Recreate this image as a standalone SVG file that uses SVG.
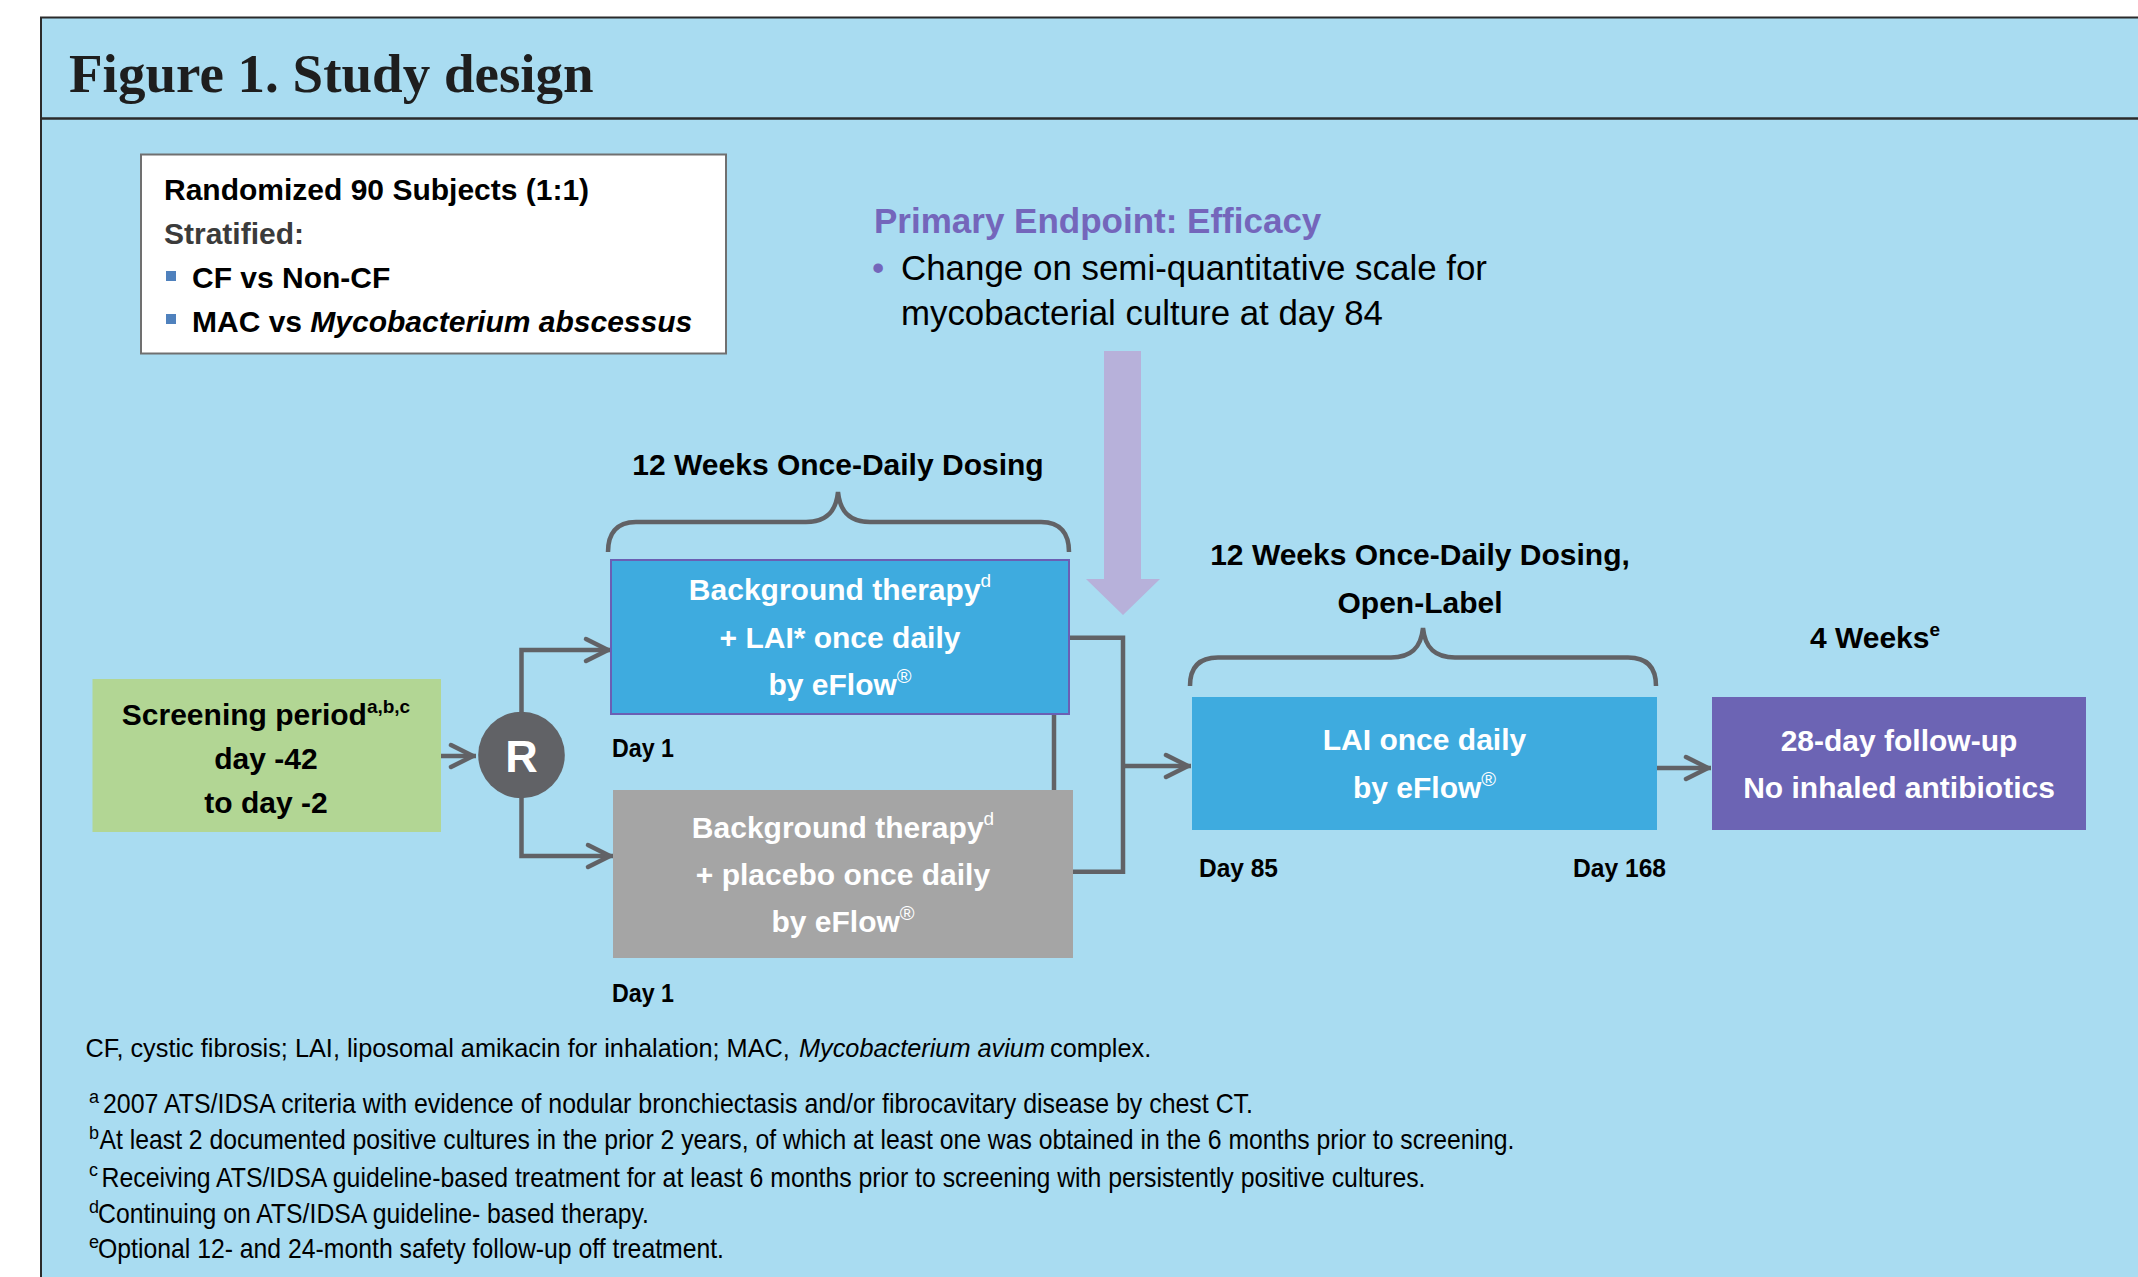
<svg xmlns="http://www.w3.org/2000/svg" width="2138" height="1277" viewBox="0 0 2138 1277">
<defs>
<style>
.sans{font-family:"Liberation Sans",Arial,sans-serif}
.b{font-weight:bold}
.wt{fill:#ffffff;font-family:"Liberation Sans",Arial,sans-serif;font-weight:bold;font-size:30px;text-anchor:middle}
.lbl{fill:#000;font-family:"Liberation Sans",Arial,sans-serif;font-weight:bold;font-size:30px}
.day{fill:#000;font-family:"Liberation Sans",Arial,sans-serif;font-weight:bold;font-size:26px}
.fn{fill:#000;font-family:"Liberation Sans",Arial,sans-serif;font-size:28px}
.fn2{fill:#000;font-family:"Liberation Sans",Arial,sans-serif;font-size:25.3px}
.fs{fill:#000;font-family:"Liberation Sans",Arial,sans-serif;font-size:18px}
.conn{fill:none;stroke:#616266;stroke-width:4.5;stroke-linejoin:miter}
.brace{fill:none;stroke:#616266;stroke-width:4.5;stroke-linecap:butt}
</style>
<marker id="chev" viewBox="0 0 40 30" markerWidth="40" markerHeight="30" markerUnits="userSpaceOnUse" refX="33" refY="15" orient="auto" overflow="visible">
<path d="M8,4 L30,15 L8,26" fill="none" stroke="#616266" stroke-width="4.5" stroke-linecap="round" stroke-linejoin="round"/>
</marker>
</defs>

<rect x="0" y="0" width="2138" height="1277" fill="#ffffff"/>
<rect x="41" y="17.5" width="2110" height="1275" fill="#a9dcf1" stroke="#2b2b2b" stroke-width="2"/>
<line x1="41" y1="118.5" x2="2138" y2="118.5" stroke="#2b2b2b" stroke-width="2.5"/>
<text x="69" y="92" font-family="'Liberation Serif','Times New Roman',serif" font-weight="bold" font-size="55" fill="#1e1e1e">Figure 1. Study design</text>

<g id="randomization-box">
<rect x="141" y="154.5" width="585" height="199" fill="#ffffff" stroke="#707070" stroke-width="2"/>
<text class="lbl" x="164" y="200">Randomized 90 Subjects (1:1)</text>
<text class="lbl" x="164" y="244" style="fill:#3b3b3b">Stratified:</text>
<rect x="166" y="271" width="10" height="10" fill="#4f81bd"/>
<text class="lbl" x="192" y="288">CF vs Non-CF</text>
<rect x="166" y="314" width="10" height="10" fill="#4f81bd"/>
<text class="lbl" x="192" y="331.5">MAC vs <tspan font-style="italic">Mycobacterium abscessus</tspan></text>
</g>

<g id="primary-endpoint">
<text class="sans b" x="874" y="233" font-size="35" fill="#7466bb">Primary Endpoint: Efficacy</text>
<text class="sans" x="872" y="280" font-size="35" fill="#7466bb">•</text>
<text class="sans" x="901" y="280" font-size="35" fill="#000" textLength="586" lengthAdjust="spacingAndGlyphs">Change on semi-quantitative scale for</text>
<text class="sans" x="901" y="325" font-size="35" fill="#000" textLength="482" lengthAdjust="spacingAndGlyphs">mycobacterial culture at day 84</text>
<polygon points="1104,351 1141,351 1141,579 1160,579 1123,615 1086,579 1104,579" fill="#b7b1da"/>
</g>

<g id="braces">
<path class="brace" d="M608,552 C608,534 616,522 636,522 L806,522 C826,522 836,512 838,492 C840,512 850,522 870,522 L1041,522 C1061,522 1069,534 1069,552"/>
<path class="brace" d="M1190,686 C1190,668 1198,657.5 1218,657.5 L1391,657.5 C1411,657.5 1421,648 1423,628 C1425,648 1435,657.5 1455,657.5 L1628,657.5 C1648,657.5 1656,668 1656,686"/>
</g>

<g id="period-labels">
<text class="lbl" x="838" y="475" text-anchor="middle">12 Weeks Once-Daily Dosing</text>
<text class="lbl" x="1420" y="565" text-anchor="middle">12 Weeks Once-Daily Dosing,</text>
<text class="lbl" x="1420" y="613" text-anchor="middle">Open-Label</text>
<text class="lbl" x="1875" y="648" text-anchor="middle">4 Weeks<tspan font-size="19" dy="-12">e</tspan></text>
<text class="day" x="612" y="757" textLength="62" lengthAdjust="spacingAndGlyphs">Day 1</text>
<text class="day" x="612" y="1001.5" textLength="62" lengthAdjust="spacingAndGlyphs">Day 1</text>
<text class="day" x="1199" y="876.5" textLength="79" lengthAdjust="spacingAndGlyphs">Day 85</text>
<text class="day" x="1573" y="876.5" textLength="93" lengthAdjust="spacingAndGlyphs">Day 168</text>
</g>

<g id="connectors">
<path class="conn" d="M441,756 L476,756" marker-end="url(#chev)"/>
<path class="conn" d="M521.5,712 L521.5,650 L611,650" marker-end="url(#chev)"/>
<path class="conn" d="M521.5,798 L521.5,856 L613,856" marker-end="url(#chev)"/>
<path class="conn" d="M1069,637.7 L1123,637.7 L1123,871.7 L1073,871.7"/>
<path class="conn" d="M1123,766 L1191,766" marker-end="url(#chev)"/>
<path class="conn" d="M1054,714 L1054,790"/>
<path class="conn" d="M1657,768 L1711,768" marker-end="url(#chev)"/>
</g>

<g id="screening">
<rect x="92.5" y="679" width="348.5" height="153" fill="#b2d694"/>
<text class="wt" x="266" y="725" style="fill:#000">Screening period<tspan font-size="19" dy="-12">a,b,c</tspan></text>
<text class="wt" x="266" y="769" style="fill:#000">day -42</text>
<text class="wt" x="266" y="813" style="fill:#000">to day -2</text>
</g>

<g id="randomize">
<circle cx="521.5" cy="755" r="43.3" fill="#616266"/>
<text class="sans b" x="521.5" y="772" font-size="45" fill="#ffffff" text-anchor="middle">R</text>
</g>

<g id="lai-arm">
<rect x="611" y="560" width="458" height="154" fill="#3eabdf" stroke="#6a5fb4" stroke-width="2"/>
<text class="wt" x="840" y="600">Background therapy<tspan font-size="19" font-weight="normal" dy="-13">d</tspan></text>
<text class="wt" x="840" y="648">+ LAI* once daily</text>
<text class="wt" x="840" y="695">by eFlow<tspan font-size="20" font-weight="normal" dy="-12">®</tspan></text>
</g>

<g id="placebo-arm">
<rect x="613" y="790" width="460" height="168" fill="#a5a5a5"/>
<text class="wt" x="843" y="838">Background therapy<tspan font-size="19" font-weight="normal" dy="-13">d</tspan></text>
<text class="wt" x="843" y="885">+ placebo once daily</text>
<text class="wt" x="843" y="931.5">by eFlow<tspan font-size="20" font-weight="normal" dy="-12">®</tspan></text>
</g>

<g id="open-label">
<rect x="1192" y="697" width="465" height="133" fill="#3eabdf"/>
<text class="wt" x="1424.5" y="750">LAI once daily</text>
<text class="wt" x="1424.5" y="798">by eFlow<tspan font-size="20" font-weight="normal" dy="-12">®</tspan></text>
</g>

<g id="follow-up">
<rect x="1712" y="697" width="374" height="133" fill="#6c64b4"/>
<text class="wt" x="1899" y="751">28-day follow-up</text>
<text class="wt" x="1899" y="798">No inhaled antibiotics</text>
</g>

<g id="footnotes">
<text class="fn2" x="85.5" y="1056.5">CF, cystic fibrosis; LAI, liposomal amikacin for inhalation; MAC,</text>
<text class="fn2" x="799" y="1056.5" font-style="italic">Mycobacterium avium</text>
<text class="fn2" x="1050" y="1056.5">complex.</text>
<text class="fs" x="89" y="1103">a</text>
<text class="fn" x="103" y="1113" textLength="1150" lengthAdjust="spacingAndGlyphs">2007 ATS/IDSA criteria with evidence of nodular bronchiectasis and/or fibrocavitary disease by chest CT.</text>
<text class="fs" x="89" y="1139">b</text>
<text class="fn" x="99.5" y="1149" textLength="1415" lengthAdjust="spacingAndGlyphs">At least 2 documented positive cultures in the prior 2 years, of which at least one was obtained in the 6 months prior to screening.</text>
<text class="fs" x="89" y="1176">c</text>
<text class="fn" x="101.5" y="1186.5" textLength="1324" lengthAdjust="spacingAndGlyphs">Receiving ATS/IDSA guideline-based treatment for at least 6 months prior to screening with persistently positive cultures.</text>
<text class="fs" x="89" y="1213">d</text>
<text class="fn" x="98" y="1223" textLength="551" lengthAdjust="spacingAndGlyphs">Continuing on ATS/IDSA guideline- based therapy.</text>
<text class="fs" x="89" y="1248">e</text>
<text class="fn" x="98" y="1258" textLength="626" lengthAdjust="spacingAndGlyphs">Optional 12- and 24-month safety follow-up off treatment.</text>
</g>
</svg>
